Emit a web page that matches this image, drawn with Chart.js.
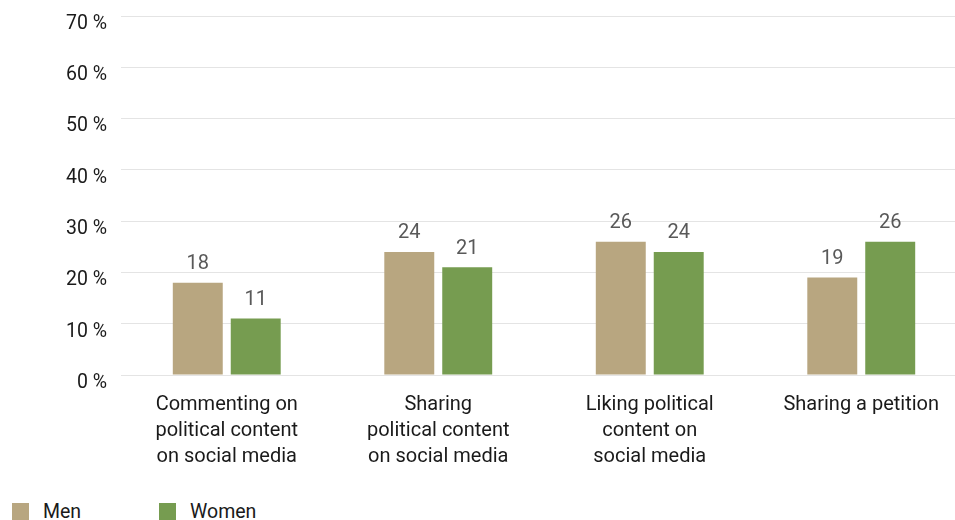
<!DOCTYPE html>
<html>
<head>
<meta charset="utf-8">
<script src="https://cdn.jsdelivr.net/npm/chart.js@4"></script>
<style>
  html, body { margin: 0; padding: 0; background: #fff; overflow: hidden; }
  #wrap { position: relative; width: 967px; height: 520px; }
  #legend {
    position: absolute; left: 12px; top: 500px;
    font-family: Roboto, sans-serif; font-size: 19.5px; color: #1a1a1a;
    display: flex;
  }
  .item { display: flex; align-items: center; width: 147px; }
  .swatch { width: 17px; height: 17px; margin-right: 14px; }
</style>
</head>
<body>
<div id="wrap">
  <canvas id="barChart" width="967" height="485"></canvas>
  <div id="legend"></div>
</div>
<script>
// Categories and series
const categories = [
  ["Commenting on", "political content", "on social media"],
  ["Sharing", "political content", "on social media"],
  ["Liking political", "content on", "social media"],
  ["Sharing a petition"]
];
const menValues = [18, 24, 26, 19];
const womenValues = [11, 21, 24, 26];
const seriesNames = ["Men", "Women"];
const seriesColors = ["#b8a680", "#769c50"];
const yTicks = [0, 10, 20, 30, 40, 50, 60, 70];

// Value labels above each bar
const valueLabels = {
  id: "valueLabels",
  afterDatasetsDraw(chart) {
    const ctx = chart.ctx;
    ctx.save();
    ctx.font = "20px Roboto";
    ctx.fillStyle = "#595959";
    ctx.textAlign = "center";
    ctx.textBaseline = "alphabetic";
    chart.data.datasets.forEach((ds, di) => {
      chart.getDatasetMeta(di).data.forEach((bar, i) => {
        ctx.fillText(ds.data[i], bar.x, bar.y - 13.5);
      });
    });
    ctx.restore();
  }
};

const ctx = document.getElementById("barChart").getContext("2d");
const chart = new Chart(ctx, {
  type: "bar",
  data: {
    labels: categories,
    datasets: [
      { label: seriesNames[0], data: menValues, backgroundColor: seriesColors[0] },
      { label: seriesNames[1], data: womenValues, backgroundColor: seriesColors[1] }
    ]
  },
  options: {
    responsive: false,
    animation: false,
    devicePixelRatio: 1,
    layout: { padding: { top: 16, right: 0, bottom: 0, left: 0 } },
    datasets: {
      bar: { categoryPercentage: 0.548, barPercentage: 0.862 }
    },
    plugins: {
      legend: { display: false },
      tooltip: { enabled: false }
    },
    scales: {
      x: {
        grid: { display: false, drawTicks: false },
        border: { display: false },
        ticks: {
          padding: 17,
          maxRotation: 0,
          autoSkip: false,
          color: "#1a1a1a",
          font: { family: "Roboto", size: 20, lineHeight: 1.3 }
        },
        afterFit(scale) { scale.height = 110; }
      },
      y: {
        min: yTicks[0],
        max: yTicks[yTicks.length - 1],
        afterBuildTicks(scale) { scale.ticks = yTicks.map(v => ({ value: v })); },
        grid: { color: "#e4e4e4", lineWidth: 1, drawTicks: false },
        border: { display: false },
        ticks: {
          padding: 14,
          labelOffset: 8,
          color: "#1a1a1a",
          font: { family: "Roboto", size: 19.5 },
          callback: v => v + " %"
        },
        afterFit(scale) {
          scale.width = 121;
          scale.paddingTop = 0;
          scale.paddingBottom = 0;
        }
      }
    }
  },
  plugins: [valueLabels]
});

// Legend below the chart
const legend = document.getElementById("legend");
seriesNames.forEach((name, i) => {
  const item = document.createElement("div");
  item.className = "item";
  const sw = document.createElement("span");
  sw.className = "swatch";
  sw.style.background = seriesColors[i];
  const txt = document.createElement("span");
  txt.textContent = name;
  item.appendChild(sw);
  item.appendChild(txt);
  legend.appendChild(item);
});
</script>
</body>
</html>
